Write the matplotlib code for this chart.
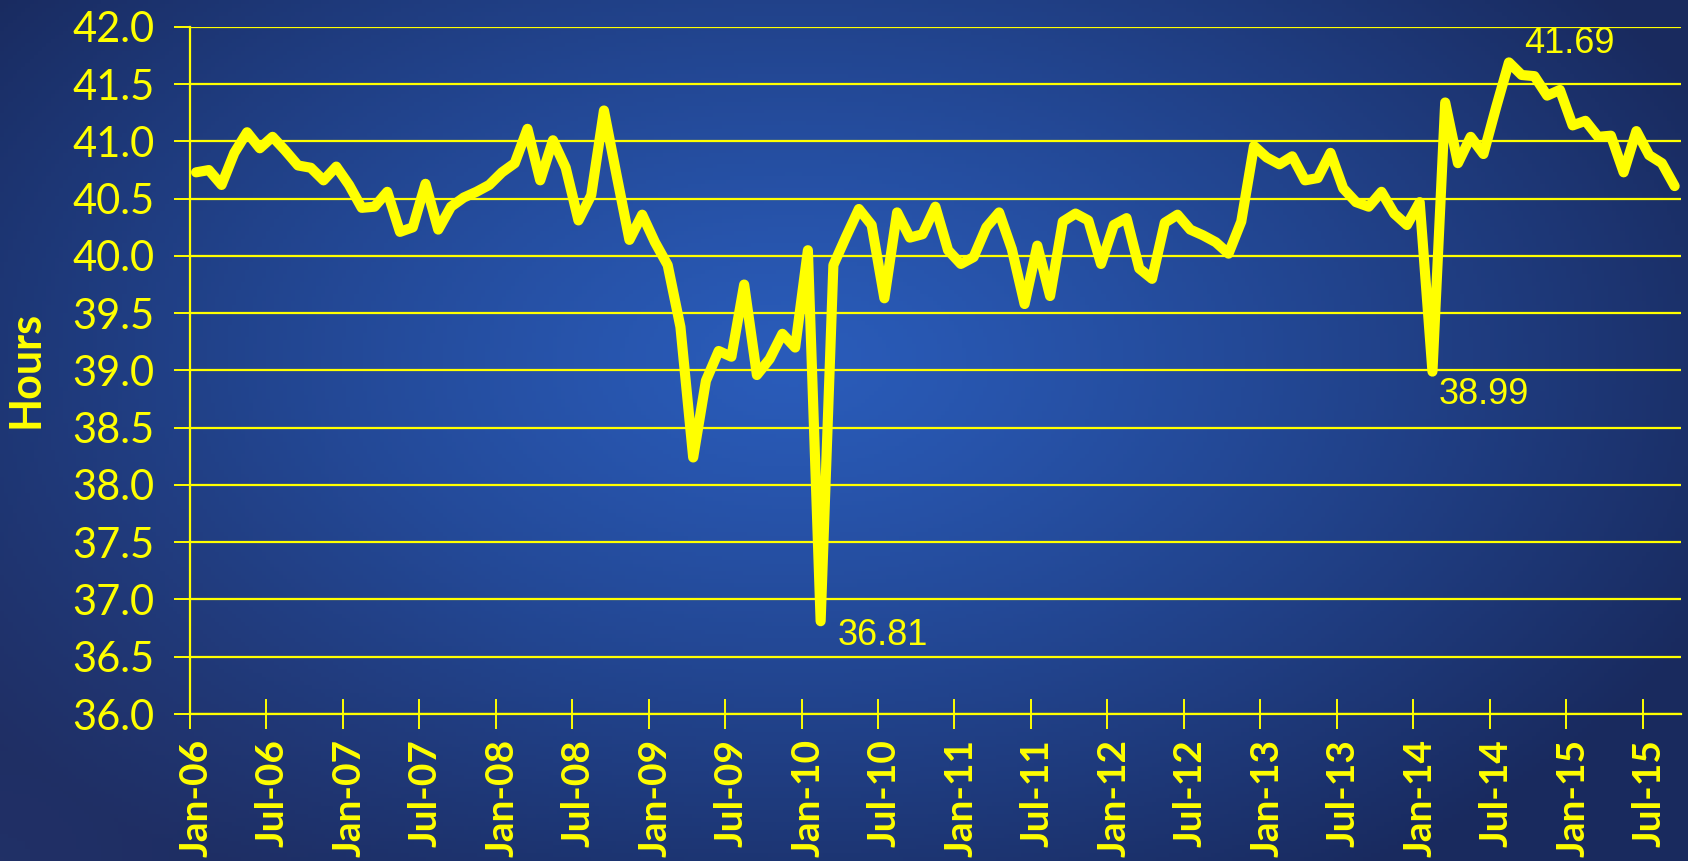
import numpy as np
import matplotlib
matplotlib.use("Agg")
import matplotlib.pyplot as plt

# ---------------- data ----------------
start_year = 2006
hours = [
    40.73, 40.75, 40.62, 40.90, 41.08, 40.94, 41.04, 40.92, 40.79, 40.77, 40.66, 40.78,   # 2006
    40.62, 40.42, 40.43, 40.56, 40.21, 40.25, 40.63, 40.23, 40.43, 40.51, 40.56, 40.62,   # 2007
    40.73, 40.81, 41.11, 40.66, 41.01, 40.77, 40.31, 40.53, 41.27, 40.70, 40.14, 40.36,   # 2008
    40.12, 39.92, 39.38, 38.24, 38.91, 39.17, 39.12, 39.75, 38.96, 39.10, 39.32, 39.20,   # 2009
    40.05, 36.81, 39.92, 40.17, 40.41, 40.27, 39.63, 40.38, 40.16, 40.19, 40.43, 40.05,   # 2010
    39.93, 39.99, 40.25, 40.38, 40.06, 39.58, 40.09, 39.65, 40.30, 40.37, 40.31, 39.93,   # 2011
    40.27, 40.33, 39.89, 39.80, 40.29, 40.36, 40.23, 40.18, 40.12, 40.02, 40.30, 40.96,   # 2012
    40.86, 40.80, 40.87, 40.66, 40.68, 40.90, 40.59, 40.47, 40.43, 40.56, 40.37, 40.27,   # 2013
    40.47, 38.99, 41.34, 40.81, 41.04, 40.89, 41.30, 41.69, 41.58, 41.57, 41.40, 41.45,   # 2014
    41.14, 41.18, 41.04, 41.05, 40.73, 41.09, 40.88, 40.81, 40.61,                        # 2015
]
xtick_labels = ["Jan-06", "Jul-06", "Jan-07", "Jul-07", "Jan-08", "Jul-08", "Jan-09",
                "Jul-09", "Jan-10", "Jul-10", "Jan-11", "Jul-11", "Jan-12", "Jul-12",
                "Jan-13", "Jul-13", "Jan-14", "Jul-14", "Jan-15", "Jul-15"]
yticks = [36.0, 36.5, 37.0, 37.5, 38.0, 38.5, 39.0, 39.5, 40.0, 40.5, 41.0, 41.5, 42.0]
annot_idx = [49, 97, 103]   # Feb-10, Feb-14, Aug-14
annot_txt = ["36.81", "38.99", "41.69"]
y_label = "Hours"

YEL = "#FFFF00"
n = len(hours)
x = np.arange(n) + 0.5

W, H, DPI = 1688, 861, 100
fig = plt.figure(figsize=(W / DPI, H / DPI), dpi=DPI)

# ---------------- background radial gradient ----------------
bg = fig.add_axes([0, 0, 1, 1], zorder=-10)
gx, gy = np.meshgrid(np.linspace(0, 1, 400), np.linspace(0, 1, 220))
cx, cy = 0.47, 0.42
d = np.sqrt(((gx - cx) / 0.60) ** 2 + ((gy - cy) / 0.72) ** 2)
t = np.clip(d, 0, 1) ** 1.2
center = np.array([42, 92, 186]) / 255.0
edge = np.array([25, 42, 94]) / 255.0
img = center[None, None, :] * (1 - t[..., None]) + edge[None, None, :] * t[..., None]
# slight grayish-purple tint in lower-left
tint = np.clip(1 - np.sqrt((gx / 0.35) ** 2 + ((1 - gy) / 0.6) ** 2), 0, 1)[..., None]
img = img * (1 - 0.35 * tint) + (np.array([48, 60, 118]) / 255.0) * 0.35 * tint
bg.imshow(img, extent=[0, 1, 0, 1], origin="upper", aspect="auto")
bg.axis("off")

# ---------------- main axes ----------------
left, right, top, bottom = 189.7, 1681.0, 26.9, 714.0
ax = fig.add_axes([left / W, 1 - bottom / H, (right - left) / W, (bottom - top) / H])
ax.set_facecolor("none")

ax.plot(x, hours, color=YEL, lw=7.3, solid_joinstyle="round", solid_capstyle="round",
        zorder=5, clip_on=False)

ax.set_xlim(0, n)
ax.set_ylim(36.0, 42.0)
ax.set_yticks(yticks)
ax.set_yticklabels([f"{v:.1f}" for v in yticks])
ax.grid(axis="y", color=YEL, lw=1.6, zorder=1)
ax.set_axisbelow(True)

for s in ["top", "right"]:
    ax.spines[s].set_visible(False)
for s in ["left", "bottom"]:
    ax.spines[s].set_color(YEL)
    ax.spines[s].set_linewidth(1.6)

# x: major ticks at category boundaries, labels on category centres (minor)
major = np.arange(0, n, 6)
ax.set_xticks(major)
ax.set_xticklabels([])
ax.set_xticks(major + 0.5, minor=True)
ax.set_xticklabels(xtick_labels, minor=True, rotation=90, ha="center", va="top",
                   fontfamily="Lato", fontweight="bold", fontsize=28, color=YEL)
ax.tick_params(axis="x", which="major", direction="inout", length=21.5, width=1.4, color=YEL)
ax.tick_params(axis="x", which="minor", length=0, pad=18)
ax.tick_params(axis="y", which="major", direction="out", length=11.5, width=1.4, color=YEL,
               pad=14, labelsize=30, labelcolor=YEL)
for lab in ax.get_yticklabels():
    lab.set_fontfamily("Lato")

fig.text(26 / W, 1 - 369 / H, y_label, rotation=90, ha="center", va="center",
         fontfamily="Lato", fontweight="bold", fontsize=31, color=YEL)

# ---------------- annotations ----------------
offsets = [(17, -24), (6, -32), (15, 9)]
for i, txt, off in zip(annot_idx, annot_txt, offsets):
    ax.annotate(txt, xy=(x[i], hours[i]), xytext=off, textcoords="offset pixels",
                ha="left", va="baseline", fontfamily="Liberation Sans", fontsize=26,
                color=YEL, zorder=6, annotation_clip=False)

fig.savefig("out.png", dpi=DPI)
